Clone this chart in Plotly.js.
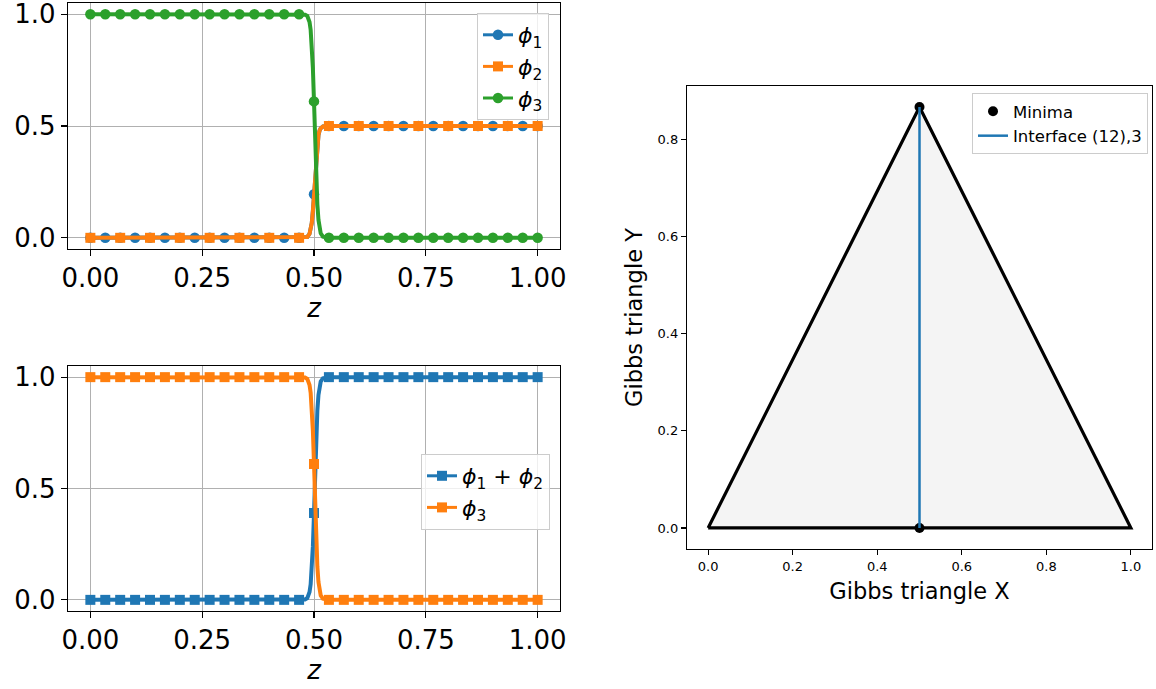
<!DOCTYPE html>
<html>
<head>
<meta charset="utf-8">
<script src="https://cdn.plot.ly/plotly-3.0.1.min.js"></script>
<style>html,body{margin:0;padding:0;background:#fff;}#chart{width:1156px;height:689px;}</style>
</head>
<body>
<div id="chart"></div>
<script>
// ---------- data ----------
const z = [0, 0.03333, 0.06667, 0.1, 0.13333, 0.16667, 0.2, 0.23333, 0.26667, 0.3, 0.33333, 0.36667, 0.4, 0.43333, 0.46667,
  0.48, 0.485, 0.49, 0.4925, 0.495, 0.4975, 0.5, 0.5025, 0.505, 0.5075, 0.51, 0.5125, 0.515, 0.52,
  0.53333, 0.56667, 0.6, 0.63333, 0.66667, 0.7, 0.73333, 0.76667, 0.8, 0.83333, 0.86667, 0.9, 0.93333, 0.96667, 1.0];
const phi1 = [0,0,0,0,0,0,0,0,0,0,0,0,0,0,0,
  0.001, 0.004, 0.018, 0.035, 0.066, 0.12, 0.195, 0.285, 0.365, 0.425, 0.46, 0.48, 0.49, 0.4975,
  0.5,0.5,0.5,0.5,0.5,0.5,0.5,0.5,0.5,0.5,0.5,0.5,0.5,0.5,0.5];
const phi2 = [0,0,0,0,0,0,0,0,0,0,0,0,0,0,0,
  0.001, 0.004, 0.018, 0.035, 0.066, 0.12, 0.195, 0.285, 0.365, 0.425, 0.46, 0.48, 0.49, 0.4975,
  0.5,0.5,0.5,0.5,0.5,0.5,0.5,0.5,0.5,0.5,0.5,0.5,0.5,0.5,0.5];
const phi3 = [1,1,1,1,1,1,1,1,1,1,1,1,1,1,1,
  0.998, 0.992, 0.965, 0.93, 0.868, 0.76, 0.61, 0.43, 0.27, 0.15, 0.08, 0.04, 0.02, 0.005,
  0,0,0,0,0,0,0,0,0,0,0,0,0,0,0];
const phi12 = [0,0,0,0,0,0,0,0,0,0,0,0,0,0,0,
  0.002, 0.008, 0.035, 0.07, 0.132, 0.24, 0.39, 0.57, 0.73, 0.85, 0.92, 0.96, 0.98, 0.995,
  1,1,1,1,1,1,1,1,1,1,1,1,1,1,1];

const zTicks = [0, 0.25, 0.5, 0.75, 1.0];
const zTickLabels = ["0.00", "0.25", "0.50", "0.75", "1.00"];
const phiTicks = [0, 0.5, 1.0];
const phiTickLabels = ["0.0", "0.5", "1.0"];

const triX = [0, 1, 0.5, 0];
const triY = [0, 0, 0.866, 0];
const minimaX = [0.5, 0.5];
const minimaY = [0.866, 0];
const interfaceX = [0.5, 0.5];
const interfaceY = [0, 0.866];
const gibbsXTicks = [0, 0.2, 0.4, 0.6, 0.8, 1.0];
const gibbsYTicks = [0, 0.2, 0.4, 0.6, 0.8];

const labels1 = ["<i>ϕ</i><sub>1</sub>", "<i>ϕ</i><sub>2</sub>", "<i>ϕ</i><sub>3</sub>"];
const labels2 = ["<i>ϕ</i><sub>1</sub> + <i>ϕ</i><sub>2</sub>", "<i>ϕ</i><sub>3</sub>"];
const labels3 = ["Minima", "Interface (12),3"];

// ---------- helpers ----------
const C = {blue: "#1f77b4", orange: "#ff7f0e", green: "#2ca02c"};
const FONT = "DejaVu Sans, Liberation Sans, sans-serif";
function markIdx(step) {
  const out = [];
  z.forEach((v, i) => { const k = v * 30; const r = Math.round(k); if (Math.abs(k - r) < 0.01 && r % step === 0) out.push(i); });
  return out;
}
function pick(arr, idx) { return idx.map(i => arr[i]); }
const LW = 4;

function series(y, color, symbol, msize, name, xa, ya, legend, step) {
  const idx = markIdx(step);
  return [
    {x: z, y: y, xaxis: xa, yaxis: ya, mode: "lines", line: {color: color, width: LW}, showlegend: false, hoverinfo: "skip"},
    {x: pick(z, idx), y: pick(y, idx), xaxis: xa, yaxis: ya, mode: "markers",
      marker: {color: color, symbol: symbol, size: msize, line: {width: 0}}, showlegend: false},
    {x: [null], y: [null], xaxis: xa, yaxis: ya, mode: "lines+markers", name: name, legend: legend,
      line: {color: color, width: 3}, marker: {color: color, symbol: symbol, size: msize}}
  ];
}

const traces = [].concat(
  series(phi1, C.blue, "circle", 10.5, labels1[0], "x", "y", "legend", 1),
  series(phi2, C.orange, "square", 10, labels1[1], "x", "y", "legend", 2),
  series(phi3, C.green, "circle", 10.5, labels1[2], "x", "y", "legend", 1),
  series(phi12, C.blue, "square", 10, labels2[0], "x2", "y2", "legend2", 1),
  series(phi3, C.orange, "square", 10, labels2[1], "x2", "y2", "legend2", 1),
  [
    {x: triX, y: triY, xaxis: "x3", yaxis: "y3", mode: "lines", fill: "toself", fillcolor: "#f4f4f4",
      line: {color: "#000", width: 3.2}, showlegend: false, hoverinfo: "skip"},
    {x: minimaX, y: minimaY, xaxis: "x3", yaxis: "y3", mode: "markers", name: labels3[0], legend: "legend3",
      marker: {color: "#000", size: 10}},
    {x: interfaceX, y: interfaceY, xaxis: "x3", yaxis: "y3", mode: "lines", name: labels3[1], legend: "legend3",
      line: {color: C.blue, width: 2.5}}
  ]
);

const W = 1156, H = 689;
const px = v => v / W, py = v => 1 - v / H;

const leftAxisCommon = {
  showline: true, mirror: true, linecolor: "#000", linewidth: 1.2,
  ticks: "outside", ticklen: 6, tickwidth: 1.2, tickcolor: "#000",
  showgrid: true, gridcolor: "#b0b0b0", gridwidth: 1, zeroline: false,
  ticklabeloverflow: "allow",
  tickfont: {family: FONT, size: 26, color: "#000"}
};
const zAxis = Object.assign({}, leftAxisCommon, {
  range: [-0.05, 1.05], tickvals: zTicks, ticktext: zTickLabels,
  title: {text: "<i>z</i>", font: {family: FONT, size: 26, color: "#000"}, standoff: 6}
});
const phiAxis = Object.assign({}, leftAxisCommon, {
  range: [-0.05, 1.05], tickvals: phiTicks, ticktext: phiTickLabels
});
const rightCommon = {
  showline: true, mirror: true, linecolor: "#000", linewidth: 1.2,
  ticks: "outside", ticklen: 5, tickwidth: 1.1, tickcolor: "#000",
  showgrid: false, zeroline: false, ticklabeloverflow: "allow",
  tickfont: {family: FONT, size: 13, color: "#000"}, tickformat: ".1f"
};
const legendCommon = {
  bgcolor: "rgba(255,255,255,0.8)", bordercolor: "#cccccc", borderwidth: 1,
  xanchor: "right", yanchor: "top"
};

const layout = {
  width: W, height: H, autosize: false,
  margin: {l: 0, r: 0, t: 0, b: 0},
  paper_bgcolor: "#fff", plot_bgcolor: "#fff",
  font: {family: FONT, color: "#000"},
  xaxis: Object.assign({}, zAxis, {domain: [px(68), px(560)], anchor: "y"}),
  yaxis: Object.assign({}, phiAxis, {domain: [py(249), py(3)], anchor: "x"}),
  xaxis2: Object.assign({}, zAxis, {domain: [px(68), px(560)], anchor: "y2"}),
  yaxis2: Object.assign({}, phiAxis, {domain: [py(611), py(366)], anchor: "x2"}),
  xaxis3: Object.assign({}, rightCommon, {domain: [px(687), px(1152)], anchor: "y3", range: [-0.05, 1.05],
    tickvals: gibbsXTicks, title: {text: "Gibbs triangle X", font: {family: FONT, size: 22.5, color: "#000"}, standoff: 10}}),
  yaxis3: Object.assign({}, rightCommon, {domain: [py(549), py(86)], anchor: "x3", range: [-0.0433, 0.9093],
    tickvals: gibbsYTicks, title: {text: "Gibbs triangle Y", font: {family: FONT, size: 22.5, color: "#000"}, standoff: 8}}),
  legend: Object.assign({}, legendCommon, {x: px(549), y: py(13), font: {family: FONT, size: 22, color: "#000"}}),
  legend2: Object.assign({}, legendCommon, {x: px(550), y: py(454), font: {family: FONT, size: 22, color: "#000"}}),
  legend3: Object.assign({}, legendCommon, {x: px(1148), y: py(93), font: {family: FONT, size: 16.5, color: "#000"}}),
  showlegend: true
};

Plotly.newPlot("chart", traces, layout, {displayModeBar: false, staticPlot: true});
</script>
</body>
</html>
